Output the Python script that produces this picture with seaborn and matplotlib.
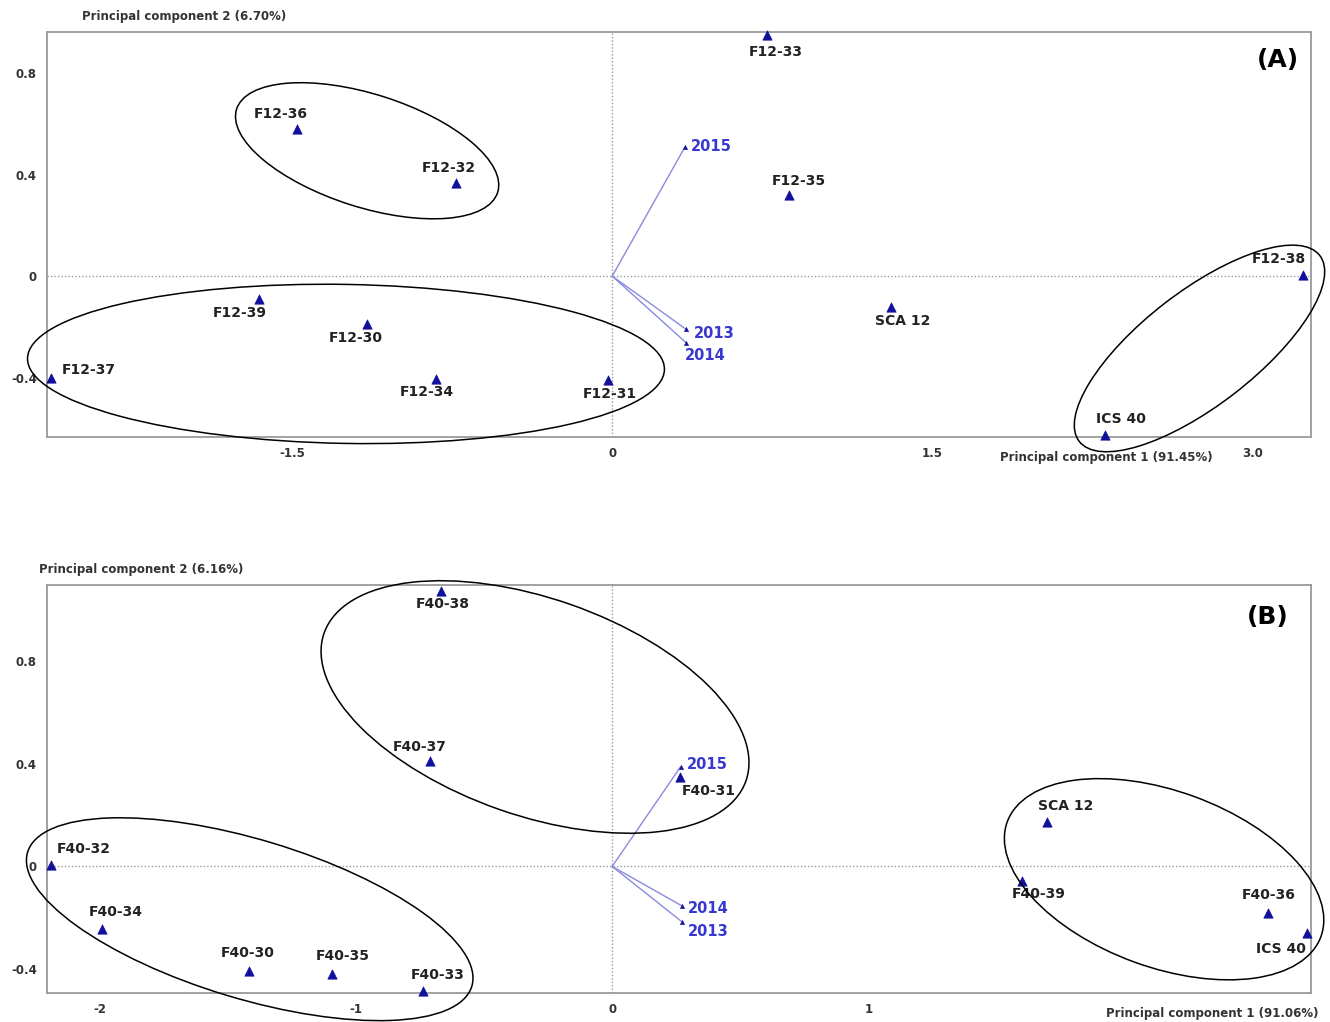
import numpy as np
import pandas as pd
import matplotlib
matplotlib.use("Agg")
import matplotlib.pyplot as plt
import seaborn as sns
from matplotlib.patches import Ellipse
from matplotlib.transforms import ScaledTranslation

# ---------------- data ----------------
# (A) F12 progenies: PCA scores
a_names = ["F12-33", "F12-36", "F12-32", "F12-35", "F12-38", "SCA 12",
           "ICS 40", "F12-39", "F12-30", "F12-37", "F12-34", "F12-31"]
a_pc1 = [0.724, -1.476, -0.732, 0.830, 3.238, 1.304,
         2.310, -1.655, -1.147, -2.629, -0.827, -0.018]
a_pc2 = [0.949, 0.581, 0.365, 0.319, 0.004, -0.121,
         -0.626, -0.092, -0.188, -0.400, -0.404, -0.409]
a_years = ["2015", "2013", "2014"]
a_year_pc1 = [0.341, 0.347, 0.347]
a_year_pc2 = [0.509, -0.210, -0.263]

# (B) F40 progenies: PCA scores
b_names = ["F40-38", "F40-37", "F40-31", "F40-32", "F40-34", "F40-30",
           "F40-35", "F40-33", "SCA 12", "F40-39", "F40-36", "ICS 40"]
b_pc1 = [-0.667, -0.712, 0.264, -2.190, -1.991, -1.417,
         -1.092, -0.737, 1.696, 1.597, 2.557, 2.709]
b_pc2 = [1.076, 0.413, 0.350, 0.006, -0.245, -0.408,
         -0.421, -0.486, 0.173, -0.055, -0.183, -0.258]
b_years = ["2015", "2014", "2013"]
b_year_pc1 = [0.267, 0.272, 0.272]
b_year_pc2 = [0.389, -0.154, -0.216]

# ---------------- styling ----------------
# label placement: (dx px, dy px downward, horizontal alignment)
a_label_pos = [(9, 17, "center"), (-16, -15, "center"), (-7, -15, "center"),
               (9, -14, "center"), (-25, -16, "center"), (12, 14, "center"),
               (16, -16, "center"), (-19, 14, "center"), (-12, 14, "center"),
               (11, -8, "left"), (-9, 13, "center"), (1, 14, "center")]
a_year_pos = [(6, 0, "left"), (8, 4, "left"), (-1, 13, "left")]
b_label_pos = [(2, 13, "center"), (-10, -14, "center"), (2, 14, "left"),
               (6, -16, "left"), (14, -17, "center"), (-1, -18, "center"),
               (10, -18, "center"), (14, -16, "center"), (19, -16, "center"),
               (17, 13, "center"), (1, -18, "center"), (-26, 16, "center")]
b_year_pos = [(6, -2, "left"), (6, 3, "left"), (6, 10, "left")]

# group outlines: centre in data units, width/height in px, angle in deg
a_groups = [((-1.148, 0.494), 274, 113, -17.7),
            ((-1.247, -0.346), 637, 159, -1.0),
            ((2.751, -0.285), 304, 114, 37.7)]
b_groups = [((-0.301, 0.622), 447, 217, -19.3),
            ((-1.414, -0.206), 464, 159, -16.8),
            ((2.153, -0.050), 334, 176, -20.1)]

MARK = "#10109a"
VEC = "#8a8ae0"
YEARC = "#3838d0"
TXT = "#222222"
SPINE = "#9a9a9a"

sns.set_theme(style="white")
plt.rcParams["font.family"] = ["DejaVu Sans"]

fig = plt.figure(figsize=(13.3, 10.22), dpi=100)
ax_a = fig.add_axes([0.0351, 0.5724, 0.9504, 0.3963])
ax_b = fig.add_axes([0.0351, 0.0281, 0.9504, 0.3995])


def draw_panel(ax, names, pc1, pc2, label_pos, years, ypc1, ypc2, year_pos,
               groups, xlim, ylim, xticks, xticklabels, yticks, yticklabels):
    ax.set_xlim(*xlim)
    ax.set_ylim(*ylim)
    ax.axhline(0, color="#9a9a9a", lw=1.0, ls=(0, (1, 1.5)), zorder=1)
    ax.axvline(0, color="#9a9a9a", lw=1.0, ls=(0, (1, 1.5)), zorder=1)

    # loading vectors for the years
    for x, y in zip(ypc1, ypc2):
        ax.plot([0, x], [0, y], color=VEC, lw=1.0, zorder=2)
    ydf = pd.DataFrame({"pc1": ypc1, "pc2": ypc2, "year": years})
    sns.scatterplot(data=ydf, x="pc1", y="pc2", marker="^", s=10,
                    color=MARK, edgecolor=MARK, linewidth=0.3, ax=ax,
                    zorder=3, legend=False)
    for (x, y, t), (dx, dy, ha) in zip(zip(ypc1, ypc2, years), year_pos):
        ax.annotate(t, (x, y), xytext=(dx, -dy), textcoords="offset pixels",
                    ha=ha, va="center", fontsize=10.5, fontweight="bold",
                    color=YEARC, zorder=5)

    # genotype scores
    df = pd.DataFrame({"pc1": pc1, "pc2": pc2, "name": names})
    sns.scatterplot(data=df, x="pc1", y="pc2", marker="^", s=45,
                    color=MARK, edgecolor=MARK, linewidth=0.5, ax=ax,
                    zorder=4, legend=False, clip_on=False)
    for (x, y, t), (dx, dy, ha) in zip(zip(pc1, pc2, names), label_pos):
        ax.annotate(t, (x, y), xytext=(dx, -dy), textcoords="offset pixels",
                    ha=ha, va="center", fontsize=10, fontweight="bold",
                    color=TXT, zorder=5, annotation_clip=False)

    # group outlines
    for (cx, cy), w, h, ang in groups:
        tr = fig.dpi_scale_trans + ScaledTranslation(cx, cy, ax.transData)
        ax.add_patch(Ellipse((0, 0), w / 100, h / 100, angle=ang,
                             transform=tr, fill=False, ec="black", lw=1.1,
                             clip_on=False, zorder=6))

    ax.set_xticks(xticks)
    ax.set_xticklabels(xticklabels)
    ax.set_yticks(yticks)
    ax.set_yticklabels(yticklabels)
    ax.tick_params(direction="inout", length=4, width=0.8, color=SPINE,
                   labelsize=8.5, labelcolor="#333333", pad=5)
    for lab in ax.get_xticklabels() + ax.get_yticklabels():
        lab.set_fontweight("bold")
    ax.set_xlabel("")
    ax.set_ylabel("")
    for sp in ax.spines.values():
        sp.set_color(SPINE)
        sp.set_linewidth(1.3)
    ax.grid(False)


draw_panel(ax_a, a_names, a_pc1, a_pc2, a_label_pos, a_years, a_year_pc1,
           a_year_pc2, a_year_pos, a_groups, (-2.649, 3.272), (-0.634, 0.962),
           [-1.5, 0, 1.5, 3.0], ["-1.5", "0", "1.5", "3.0"],
           [-0.4, 0, 0.4, 0.8], ["-0.4", "0", "0.4", "0.8"])
draw_panel(ax_b, b_names, b_pc1, b_pc2, b_label_pos, b_years, b_year_pc1,
           b_year_pc2, b_year_pos, b_groups, (-2.206, 2.725), (-0.495, 1.098),
           [-2, -1, 0, 1, 2], ["-2", "-1", "0", "1", ""],
           [-0.4, 0, 0.4, 0.8], ["-0.4", "0", "0.4", "0.8"])

# axis titles
fig.text(0.0617, 0.9843, "Principal component 2 (6.70%)", fontsize=8.5,
         fontweight="bold", color="#333333", ha="left", va="center")
fig.text(0.752, 0.5519, "Principal component 1 (91.45%)", fontsize=8.5,
         fontweight="bold", color="#333333", ha="left", va="center")
fig.text(0.0293, 0.4432, "Principal component 2 (6.16%)", fontsize=8.5,
         fontweight="bold", color="#333333", ha="left", va="center")
fig.text(0.991, 0.0088, "Principal component 1 (91.06%)", fontsize=8.5,
         fontweight="bold", color="#333333", ha="right", va="center",
         bbox=dict(facecolor="white", edgecolor="none", pad=1))

# panel tags
fig.text(0.961, 0.9413, "(A)", fontsize=18, fontweight="bold",
         color="black", ha="center", va="center")
fig.text(0.9534, 0.3963, "(B)", fontsize=18, fontweight="bold",
         color="black", ha="center", va="center")

fig.savefig("out.png", dpi=100)
